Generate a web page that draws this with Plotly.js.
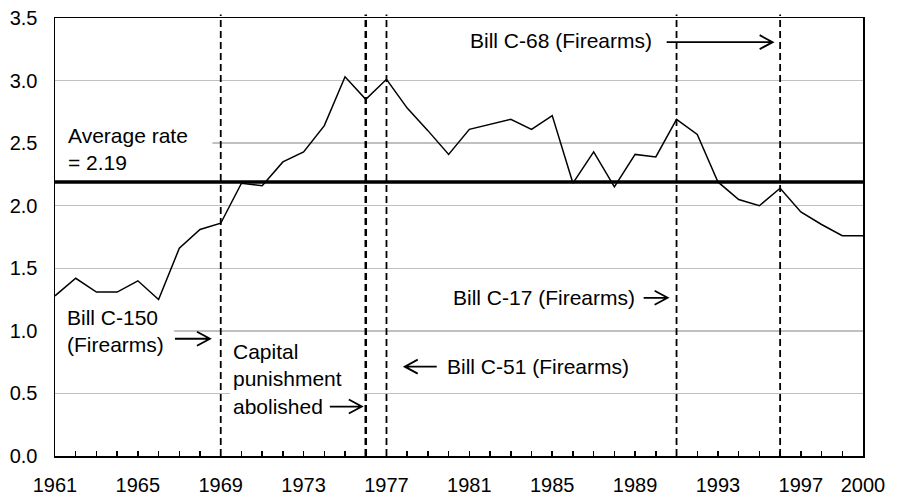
<!DOCTYPE html>
<html>
<head>
<meta charset="utf-8">
<script src="https://cdn.plot.ly/plotly-3.0.1.min.js"></script>
<style>html,body{margin:0;padding:0;background:#fff;}#chart{width:904px;height:496px;}</style>
</head>
<body>
<div id="chart"></div>
<script>
// ---- data ----
var years = [1961,1962,1963,1964,1965,1966,1967,1968,1969,1970,
             1971,1972,1973,1974,1975,1976,1977,1978,1979,1980,
             1981,1982,1983,1984,1985,1986,1987,1988,1989,1990,
             1991,1992,1993,1994,1995,1996,1997,1998,1999,2000];
var rates = [1.28,1.42,1.31,1.31,1.40,1.25,1.66,1.81,1.86,2.18,
             2.16,2.35,2.43,2.64,3.03,2.85,3.01,2.78,2.60,2.41,
             2.61,2.65,2.69,2.61,2.72,2.18,2.43,2.15,2.41,2.39,
             2.69,2.57,2.19,2.05,2.00,2.14,1.95,1.85,1.76,1.76];
var averageRate = 2.19;
var eventYears = [1969, 1976, 1977, 1991, 1996];
var xTickLabels = ["1961","1965","1969","1973","1977","1981","1985","1989","1993","1997","2000"];
var yTickVals = [0,0.5,1,1.5,2,2.5,3,3.5];

// ---- build ----
var tickText = years.map(function(y){ return xTickLabels.indexOf(String(y)) >= 0 ? String(y) : ""; });
var FONT = "Liberation Sans, Arial, sans-serif";

var traces = [
  {x: [years[0], years[years.length-1]], y: [averageRate, averageRate], mode: "lines",
   line: {color: "#000", width: 3.5}, hoverinfo: "skip"},
  {x: years, y: rates, mode: "lines", line: {color: "#000", width: 1.5}}
];

var shapes = [];
// white boxes that interrupt gridlines behind the text labels
function whiteBox(x0, x1, y0, y1){
  shapes.push({type: "rect", layer: "between", xref: "x", yref: "y", x0: x0, x1: x1, y0: y0, y1: y1,
               fillcolor: "#fff", line: {width: 0}});
}
whiteBox(1961, 1968.6, 2.3, 2.6);
whiteBox(1961, 1966.75, 0.9, 1.1);
whiteBox(1969.45, 1975.9, 0.4, 0.6);

eventYears.forEach(function(yr){
  shapes.push({type: "line", xref: "x", yref: "paper", x0: yr, x1: yr, y0: 0, y1: 1.008,
               line: {color: "#000", width: (yr === 1976 ? 2.5 : 1.8), dash: "7px,4px"}});
});

function arrow(xTip, yTip, len, dir){
  var s = dir; // 1 = right, -1 = left
  var p = "M " + (-s*len) + " 0 L 0 0 M " + (-s*13) + " 7 L 0 0 L " + (-s*13) + " -7";
  shapes.push({type: "path", xref: "x", yref: "y", xsizemode: "pixel", ysizemode: "pixel",
               xanchor: xTip, yanchor: yTip, path: p, line: {color: "#000", width: 1.8}});
}
arrow(1995.64, 3.307, 106, 1);
arrow(1968.48, 0.937, 35, 1);
arrow(1975.81, 0.395, 32, 1);
arrow(1977.88, 0.714, 32, -1);
arrow(1990.57, 1.264, 24, 1);

function label(x, y, text){
  return {x: x, y: y, xref: "x", yref: "y", text: text, showarrow: false,
          xanchor: "left", yanchor: "middle", align: "left",
          font: {family: FONT, size: 21, color: "#000"}};
}
var annotations = [
  label(1961.55, 2.452, "Average rate<br>= 2.19"),
  label(1980.95, 3.32, "Bill C-68 (Firearms)"),
  label(1961.5, 0.997, "Bill C-150<br>(Firearms)"),
  label(1969.5, 0.618, "Capital<br>punishment<br>abolished"),
  label(1979.8, 0.714, "Bill C-51 (Firearms)"),
  label(1980.1, 1.264, "Bill C-17 (Firearms)")
];

var layout = {
  width: 904, height: 496,
  margin: {l: 55, r: 41, t: 18, b: 40},
  paper_bgcolor: "#fff", plot_bgcolor: "#fff",
  showlegend: false,
  font: {family: FONT, size: 20, color: "#000"},
  xaxis: {range: [1961, 2000], tickmode: "array", tickvals: years, ticktext: tickText,
          ticks: "inside", ticklen: 5, tickwidth: 1.5, tickcolor: "#000",
          showgrid: false, zeroline: false, showline: true, mirror: true,
          linecolor: "#000", linewidth: 1.5, ticklabelstandoff: 10,
          tickfont: {family: FONT, size: 20, color: "#000"}},
  yaxis: {range: [0, 3.5], tickmode: "array", tickvals: yTickVals,
          ticktext: yTickVals.map(function(v){ return v.toFixed(1); }),
          ticks: "", showgrid: true, gridcolor: "#c0c0c0", gridwidth: 1.5,
          zeroline: false, showline: true, mirror: true, linecolor: "#000", linewidth: 1.5,
          ticklabelstandoff: 12, tickfont: {family: FONT, size: 20, color: "#000"}},
  shapes: shapes,
  annotations: annotations
};

Plotly.newPlot("chart", traces, layout, {displayModeBar: false, staticPlot: true});
</script>
</body>
</html>
